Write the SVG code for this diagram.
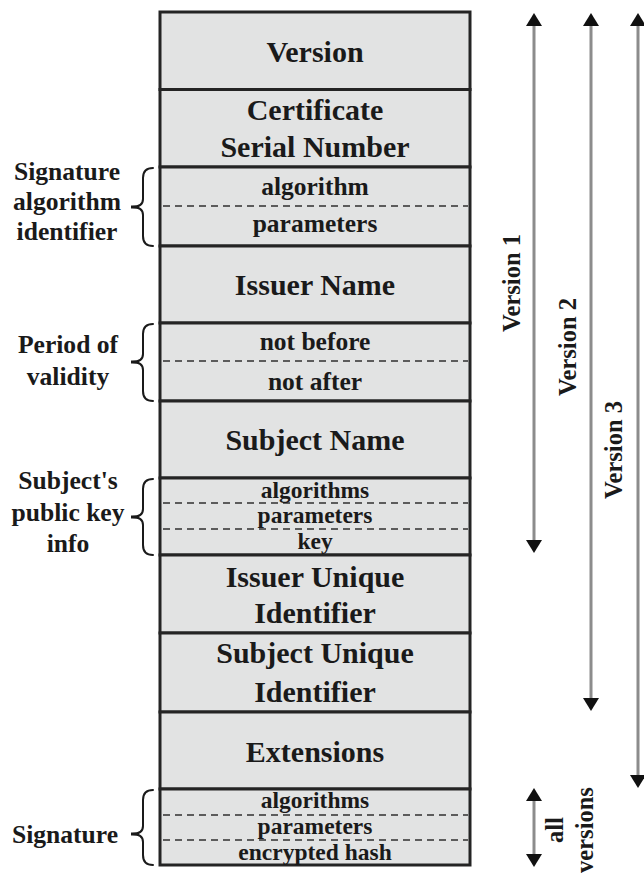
<svg xmlns="http://www.w3.org/2000/svg" width="644" height="875" viewBox="0 0 644 875">
  <style>
    .cell { fill: #e2e3e3; stroke: #242424; stroke-width: 3; }
    .sep { stroke: #303030; stroke-width: 1.5; stroke-dasharray: 7 5; fill: none; }
    .big { font-family: "Liberation Serif", "Times New Roman", serif; font-weight: bold; font-size: 30px; fill: #1a1a1a; text-anchor: middle; }
    .mid { font-family: "Liberation Serif", "Times New Roman", serif; font-weight: bold; font-size: 25.5px; fill: #1a1a1a; text-anchor: middle; }
    .small { font-family: "Liberation Serif", "Times New Roman", serif; font-weight: bold; font-size: 23.5px; fill: #1a1a1a; text-anchor: middle; }
    .side { font-family: "Liberation Serif", "Times New Roman", serif; font-weight: bold; font-size: 25.6px; fill: #1a1a1a; text-anchor: middle; }
    .vert { font-family: "Liberation Serif", "Times New Roman", serif; font-weight: bold; font-size: 24.5px; fill: #1a1a1a; text-anchor: middle; }
    .brace { fill: none; stroke: #1a1a1a; stroke-width: 2; stroke-linecap: round; }
    .span { stroke: #8c8c8c; stroke-width: 3; fill: none; marker-start: url(#head); marker-end: url(#head); }
  </style>
  <defs>
    <marker id="head" viewBox="0 0 13 16" refX="5" refY="8" markerWidth="13" markerHeight="16" markerUnits="userSpaceOnUse" orient="auto-start-reverse">
      <path d="M0,0 L13,8 L0,16 z" fill="#111"/>
    </marker>
  </defs>

  <!-- certificate fields, top to bottom -->
  <g id="version">
    <rect class="cell" x="160" y="12" width="310" height="77.5"/>
    <text class="big" x="315" y="62">Version</text>
  </g>
  <g id="serial-number">
    <rect class="cell" x="160" y="89.5" width="310" height="77.5"/>
    <text class="big" x="315" y="120">Certificate</text>
    <text class="big" x="315" y="157">Serial Number</text>
  </g>
  <g id="signature-algorithm">
    <rect class="cell" x="160" y="167" width="310" height="79"/>
    <line class="sep" x1="163" y1="206" x2="468" y2="206"/>
    <text class="mid" x="315" y="195">algorithm</text>
    <text class="mid" x="315" y="232">parameters</text>
  </g>
  <g id="issuer-name">
    <rect class="cell" x="160" y="246" width="310" height="77"/>
    <text class="big" x="315" y="295">Issuer Name</text>
  </g>
  <g id="validity">
    <rect class="cell" x="160" y="323" width="310" height="78"/>
    <line class="sep" x1="163" y1="361" x2="468" y2="361"/>
    <text class="mid" x="315" y="350">not before</text>
    <text class="mid" x="315" y="390">not after</text>
  </g>
  <g id="subject-name">
    <rect class="cell" x="160" y="401" width="310" height="77"/>
    <text class="big" x="315" y="450">Subject Name</text>
  </g>
  <g id="subject-public-key">
    <rect class="cell" x="160" y="478" width="310" height="77"/>
    <line class="sep" x1="163" y1="503" x2="468" y2="503"/>
    <line class="sep" x1="163" y1="529" x2="468" y2="529"/>
    <text class="small" x="315" y="498">algorithms</text>
    <text class="small" x="315" y="523">parameters</text>
    <text class="small" x="315" y="549">key</text>
  </g>
  <g id="issuer-unique-id">
    <rect class="cell" x="160" y="555" width="310" height="78"/>
    <text class="big" x="315" y="587">Issuer Unique</text>
    <text class="big" x="315" y="623">Identifier</text>
  </g>
  <g id="subject-unique-id">
    <rect class="cell" x="160" y="633" width="310" height="79"/>
    <text class="big" x="315" y="663">Subject Unique</text>
    <text class="big" x="315" y="702">Identifier</text>
  </g>
  <g id="extensions">
    <rect class="cell" x="160" y="712" width="310" height="77"/>
    <text class="big" x="315" y="762">Extensions</text>
  </g>
  <g id="signature">
    <rect class="cell" x="160" y="789" width="310" height="76"/>
    <line class="sep" x1="163" y1="815" x2="468" y2="815"/>
    <line class="sep" x1="163" y1="840" x2="468" y2="840"/>
    <text class="small" x="315" y="808">algorithms</text>
    <text class="small" x="315" y="834">parameters</text>
    <text class="small" x="315" y="860">encrypted hash</text>
  </g>

  <!-- side labels with braces -->
  <g id="label-signature-algorithm">
    <path class="brace" d="M153,168 C146,168 143,171 143,178 L143,199 C143,204 140,207 132,207 C140,207 143,210 143,215 L143,236 C143,243 146,246 153,246"/>
    <line x1="131" y1="207" x2="139" y2="207" stroke="#1a1a1a" stroke-width="3"/>
    <text class="side" x="67" y="180">Signature</text>
    <text class="side" x="67" y="210">algorithm</text>
    <text class="side" x="67" y="240">identifier</text>
  </g>
  <g id="label-validity">
    <path class="brace" d="M153,324 C146,324 143,327 143,334 L143,354 C143,359 140,362 132,362 C140,362 143,365 143,370 L143,391 C143,398 146,401 153,401"/>
    <line x1="131" y1="362" x2="139" y2="362" stroke="#1a1a1a" stroke-width="3"/>
    <text class="side" x="68" y="353">Period of</text>
    <text class="side" x="68" y="385">validity</text>
  </g>
  <g id="label-public-key">
    <path class="brace" d="M153,479 C146,479 143,482 143,489 L143,509 C143,514 140,517 132,517 C140,517 143,520 143,525 L143,545 C143,552 146,555 153,555"/>
    <line x1="131" y1="517" x2="139" y2="517" stroke="#1a1a1a" stroke-width="3"/>
    <text class="side" x="68" y="489">Subject's</text>
    <text class="side" x="68" y="521">public key</text>
    <text class="side" x="68" y="552">info</text>
  </g>
  <g id="label-signature">
    <path class="brace" d="M153,790 C146,790 143,793 143,800 L143,826 C143,831 140,834 132,834 C140,834 143,837 143,842 L143,855 C143,862 146,865 153,865"/>
    <line x1="131" y1="834" x2="139" y2="834" stroke="#1a1a1a" stroke-width="3"/>
    <text class="side" x="65" y="843">Signature</text>
  </g>

  <!-- version spans -->
  <g id="connectors">
    <line class="span" x1="534" y1="21" x2="534" y2="545"/>
    <line class="span" x1="591" y1="21" x2="591" y2="703"/>
    <line class="span" x1="638" y1="21" x2="638" y2="780"/>
    <line class="span" x1="534" y1="796" x2="534" y2="859"/>
  </g>
  <g id="span-labels">
    <text class="vert" transform="translate(520,283) rotate(-90)">Version 1</text>
    <text class="vert" transform="translate(576,347) rotate(-90)">Version 2</text>
    <text class="vert" transform="translate(622,450) rotate(-90)">Version 3</text>
    <text class="vert" transform="translate(563,830) rotate(-90)">all</text>
    <text class="vert" transform="translate(593,830) rotate(-90)">versions</text>
  </g>
</svg>
